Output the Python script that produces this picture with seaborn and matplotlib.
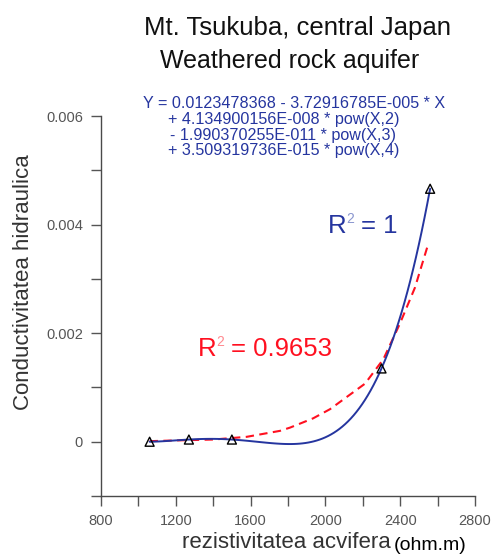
import numpy as np
import pandas as pd
import seaborn as sns
import matplotlib.pyplot as plt
from matplotlib.ticker import MultipleLocator

# ---- data ----
resistivity = [1060, 1270, 1500, 2300, 2560]
conductivity = [0.0, 0.00004, 0.00004, 0.00135, 0.00466]

# red dashed trend
trend_x = [1060, 1160, 1400, 1579, 1757, 1811, 1934, 2025, 2212, 2310, 2399, 2479, 2547]
trend_y = [0.00001, 0.00002, 0.00004, 0.00009, 0.00020, 0.00026, 0.00043, 0.00060,
           0.00107, 0.00152, 0.00218, 0.00284, 0.00361]

x_ticks = [800, 1200, 1600, 2000, 2400, 2800]
y_ticks = [0, 0.002, 0.004, 0.006]
y_tick_labels = ["0", "0.002", "0.004", "0.006"]

title_lines = ["Mt. Tsukuba, central Japan", "Weathered rock aquifer"]
equation_lines = ["Y = 0.0123478368 - 3.72916785E-005 * X",
                  "+ 4.134900156E-008 * pow(X,2)",
                  "- 1.990370255E-011 * pow(X,3)",
                  "+ 3.509319736E-015 * pow(X,4)"]

sns.set_theme(style="white")
plt.rcParams["font.family"] = ["Liberation Sans", "DejaVu Sans"]

W, H = 492, 556
fig = plt.figure(figsize=(W / 100, H / 100), dpi=100)
ax = fig.add_axes([101 / W, 1 - 496 / H, 374 / W, 380 / H])

BLUE = "#25359f"
RED = "#ff1020"
GREY = "#555555"

trend = pd.DataFrame({"x": trend_x, "y": trend_y})
sns.lineplot(data=trend, x="x", y="y", ax=ax, color=RED, lw=1.5,
             linestyle=(0, (4, 2.6)), sort=False)

pts = pd.DataFrame({"x": resistivity, "y": conductivity})
sns.regplot(data=pts, x="x", y="y", order=4, ci=None, scatter=False, truncate=True,
            ax=ax, line_kws=dict(color=BLUE, lw=1.4))
sns.scatterplot(data=pts, x="x", y="y", ax=ax, marker="^", s=42,
                facecolor="none", edgecolor="black", linewidth=1.0, zorder=5)

ax.set_xlim(800, 2800)
ax.set_ylim(-0.001, 0.006)
ax.set_xticks(x_ticks)
ax.xaxis.set_minor_locator(MultipleLocator(200))
ax.set_yticks(y_ticks)
ax.set_yticklabels(y_tick_labels)
ax.yaxis.set_minor_locator(MultipleLocator(0.001))
ax.tick_params(which="both", direction="out", length=7, width=1, color=GREY,
               labelcolor=GREY, labelsize=10.5, left=True, bottom=True)
ax.tick_params(axis="x", pad=6)
ax.tick_params(axis="y", pad=6)
for s in ["top", "right"]:
    ax.spines[s].set_visible(False)
for s in ["left", "bottom"]:
    ax.spines[s].set_color("#4a4a4a")
    ax.spines[s].set_linewidth(1)
ax.set_facecolor("white")

ax.set_xlabel("")
ax.set_ylabel("Conductivitatea hidraulica", fontsize=16, color="#333333", va="center")
ax.yaxis.set_label_coords((24 - 101) / 374, (496 - 282) / 380)

# x label in two parts
fig.text(391 / W, 1 - 548 / H, "rezistivitatea acvifera", ha="right", va="baseline",
         fontsize=16, color="#333333")
fig.text(394 / W, 1 - 550 / H, "(ohm.m)", ha="left", va="baseline",
         fontsize=14, color="black")

# title
fig.text(298 / W, 1 - 35 / H, title_lines[0], ha="center", va="baseline",
         fontsize=18.5, color="#111111")
fig.text(290 / W, 1 - 68 / H, title_lines[1], ha="center", va="baseline",
         fontsize=18, color="#111111")

# equation
eq_x = [143, 168, 170, 168]
eq_y = [108, 124, 140, 155]
for t, ex, ey in zip(equation_lines, eq_x, eq_y):
    fig.text(ex / W, 1 - ey / H, t, ha="left", va="baseline", fontsize=11.6, color=BLUE)

# R^2 labels
def r2_label(x0, base, value, color, sup_color):
    fig.text(x0 / W, 1 - base / H, "R", ha="left", va="baseline",
             fontsize=18.5, color=color)
    fig.text((x0 + 18.5) / W, 1 - (base - 10) / H, "2", ha="left", va="baseline",
             fontsize=10, color=sup_color)
    fig.text((x0 + 33) / W, 1 - base / H, "= " + value, ha="left", va="baseline",
             fontsize=18.5, color=color)

r2_label(328, 233, "1", BLUE, "#8a96cf")
r2_label(198, 356, "0.9653", RED, "#ff8a90")

fig.savefig("out.png", dpi=100, facecolor="white")
